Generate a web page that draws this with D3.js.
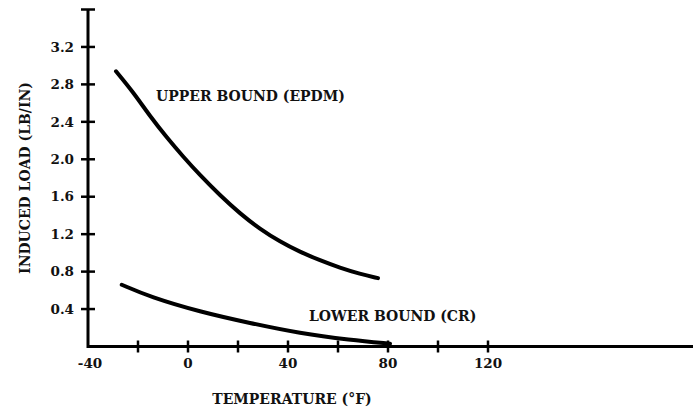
<!DOCTYPE html>
<html>
<head>
<meta charset="utf-8">
<script src="https://cdn.jsdelivr.net/npm/d3@7.9.0/dist/d3.min.js"></script>
<style>
  body { margin: 0; background: #fff; }
  svg text { font-family: "DejaVu Serif", serif; font-weight: bold; fill: #111; }
</style>
</head>
<body>
<svg id="chart" width="693" height="408"></svg>
<script>
// values (temperature °F, induced load lb/in)
const upperTemp = [-28.8, -22, -15.2, -8.4, -2, 4.8, 12.8, 20.8, 28.8, 36.8, 44.8, 52.8, 60.8, 68.8, 76];
const upperLoad = [2.94, 2.72, 2.46, 2.23, 2.03, 1.83, 1.615, 1.42, 1.255, 1.12, 1.01, 0.92, 0.84, 0.775, 0.73];
const lowerTemp = [-26.5, -15.2, 4.8, 24.8, 44.8, 64.8, 80.8];
const lowerLoad = [0.66, 0.53, 0.37, 0.25, 0.14, 0.07, 0.03];

const xTicks = [-20, 0, 20, 40, 60, 80, 100, 120];
const xLabels = [-40, 0, 40, 80, 120];
const yTicks = [0.4, 0.8, 1.2, 1.6, 2.0, 2.4, 2.8, 3.2, 3.6];
const yLabels = [0.4, 0.8, 1.2, 1.6, 2.0, 2.4, 2.8, 3.2];

const svg = d3.select('#chart');

const x = d3.scaleLinear().domain([-40, 202]).range([88, 693]);
const y = d3.scaleLinear().domain([0, 3.6]).range([346.5, 9.5]);

// axis lines
svg.append('line')
  .attr('x1', x(-40)).attr('x2', x(202))
  .attr('y1', y(0)).attr('y2', y(0))
  .attr('stroke', '#000').attr('stroke-width', 3);
svg.append('line')
  .attr('x1', x(-40)).attr('x2', x(-40))
  .attr('y1', y(0) + 1.5).attr('y2', y(3.6))
  .attr('stroke', '#000').attr('stroke-width', 3);

// tick marks crossing the axes
svg.append('g').selectAll('line')
  .data(xTicks)
  .join('line')
  .attr('x1', d => x(d)).attr('x2', d => x(d))
  .attr('y1', y(0) - 6).attr('y2', y(0) + 6)
  .attr('stroke', '#000').attr('stroke-width', 2.5);

svg.append('g').selectAll('line')
  .data(yTicks)
  .join('line')
  .attr('x1', x(-40) - 7).attr('x2', x(-40) + 7)
  .attr('y1', d => y(d)).attr('y2', d => y(d))
  .attr('stroke', '#000').attr('stroke-width', 2.5);

// tick labels
svg.append('g').selectAll('text')
  .data(xLabels)
  .join('text')
  .attr('x', d => x(d) + (d < 0 ? 2 : 0))
  .attr('y', 368)
  .attr('text-anchor', 'middle')
  .style('font-size', '13.5px')
  .text(d => d);

svg.append('g').selectAll('text')
  .data(yLabels)
  .join('text')
  .attr('x', 74)
  .attr('y', d => y(d))
  .attr('dy', '0.35em')
  .attr('text-anchor', 'end')
  .style('font-size', '13.5px')
  .text(d => d.toFixed(1));

// axis titles
svg.append('text')
  .attr('x', 292).attr('y', 404)
  .attr('text-anchor', 'middle')
  .style('font-size', '14px')
  .text('TEMPERATURE (°F)');

svg.append('text')
  .attr('transform', 'translate(30,178) rotate(-90)')
  .attr('text-anchor', 'middle')
  .style('font-size', '14px')
  .text('INDUCED LOAD (LB/IN)');

// curves
const line = d3.line()
  .x(d => x(d[0]))
  .y(d => y(d[1]))
  .curve(d3.curveBasis);

svg.append('path')
  .datum(d3.zip(upperTemp, upperLoad))
  .attr('d', line)
  .attr('fill', 'none').attr('stroke', '#000')
  .attr('stroke-width', 4).attr('stroke-linecap', 'round');

svg.append('path')
  .datum(d3.zip(lowerTemp, lowerLoad))
  .attr('d', line)
  .attr('fill', 'none').attr('stroke', '#000')
  .attr('stroke-width', 4).attr('stroke-linecap', 'round');

// curve labels
svg.append('text')
  .attr('x', 156).attr('y', 101)
  .style('font-size', '14px')
  .text('UPPER BOUND (EPDM)');

svg.append('text')
  .attr('x', 309).attr('y', 321)
  .style('font-size', '14px')
  .text('LOWER BOUND (CR)');
</script>
</body>
</html>
